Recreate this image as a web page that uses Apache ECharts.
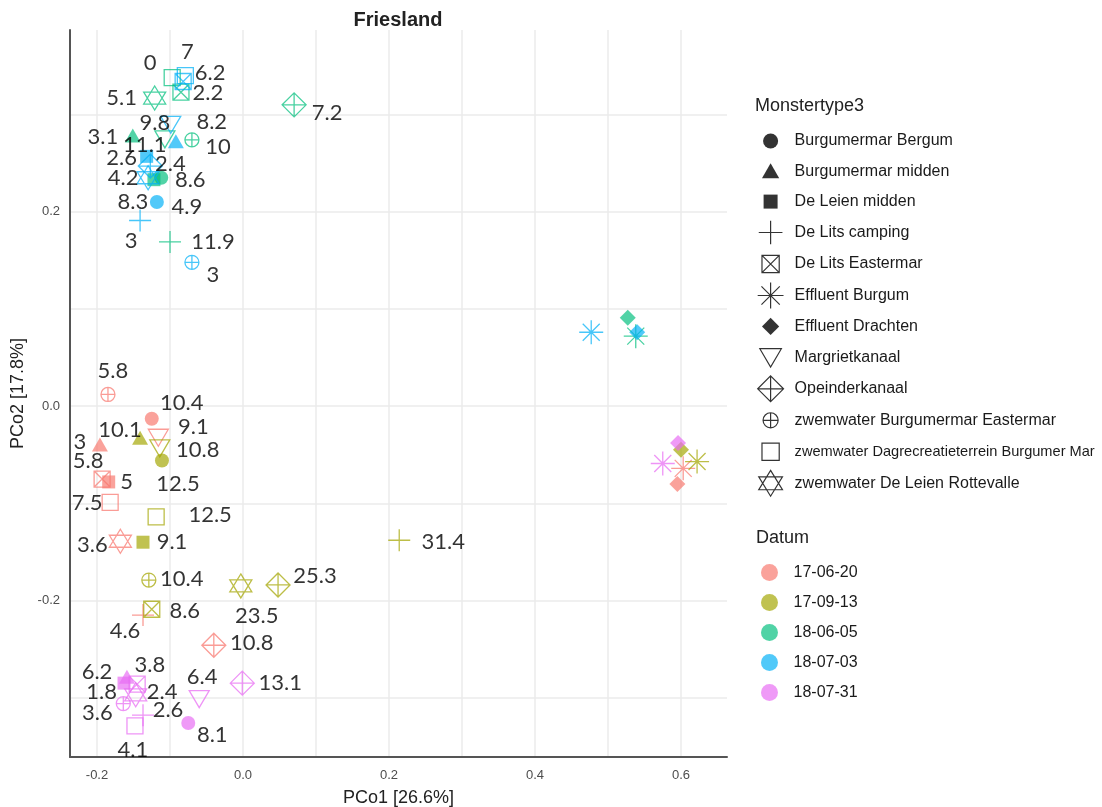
<!DOCTYPE html>
<html><head><meta charset="utf-8">
<script src="https://cdn.jsdelivr.net/npm/echarts@6/dist/echarts.min.js"></script>
<style>html,body{margin:0;padding:0;background:#fff}#c{width:1102px;height:807px}</style>
</head><body><div id="c"></div>
<script>
// ---------------- data ----------------
const dates = ['17-06-20', '17-09-13', '18-06-05', '18-07-03', '18-07-31'];
const types = ['Burgumermar Bergum', 'Burgumermar midden', 'De Leien midden', 'De Lits camping',
  'De Lits Eastermar', 'Effluent Burgum', 'Effluent Drachten', 'Margrietkanaal', 'Opeinderkanaal',
  'zwemwater Burgumermar Eastermar', 'zwemwater Dagrecreatieterrein Burgumer Mar', 'zwemwater De Leien Rottevalle'];
const xTicks = [-0.2, 0.0, 0.2, 0.4, 0.6];
const yTicks = [-0.2, 0.0, 0.2];

// [Monstertype3, PCo1, PCo2, label]
const pts_170620 = [
  ['zwemwater Burgumermar Eastermar', -0.185, 0.012, '5.8'],
  ['Burgumermar Bergum', -0.125, -0.013, '10.4'],
  ['Burgumermar midden', -0.196, -0.040, '3'],
  ['Margrietkanaal', -0.116, -0.032, '9.1'],
  ['De Lits Eastermar', -0.193, -0.075, '5.8'],
  ['De Leien midden', -0.184, -0.078, '5'],
  ['zwemwater Dagrecreatieterrein Burgumer Mar', -0.182, -0.099, '7.5'],
  ['zwemwater De Leien Rottevalle', -0.168, -0.139, '3.6'],
  ['De Lits camping', -0.137, -0.215, '4.6'],
  ['Opeinderkanaal', -0.040, -0.246, '10.8'],
  ['Effluent Drachten', 0.595, -0.080, ''],
  ['Effluent Burgum', 0.603, -0.064, '']
];
const pts_170913 = [
  ['Burgumermar midden', -0.141, -0.033, '10.1'],
  ['Margrietkanaal', -0.114, -0.043, '10.8'],
  ['Burgumermar Bergum', -0.111, -0.056, '12.5'],
  ['zwemwater Dagrecreatieterrein Burgumer Mar', -0.119, -0.114, '12.5'],
  ['De Leien midden', -0.137, -0.140, '9.1'],
  ['zwemwater Burgumermar Eastermar', -0.129, -0.179, '10.4'],
  ['De Lits Eastermar', -0.125, -0.209, '8.6'],
  ['zwemwater De Leien Rottevalle', -0.003, -0.185, '23.5'],
  ['Opeinderkanaal', 0.048, -0.184, '25.3'],
  ['De Lits camping', 0.214, -0.138, '31.4'],
  ['Effluent Drachten', 0.600, -0.045, ''],
  ['Effluent Burgum', 0.622, -0.057, '']
];
const pts_180605 = [
  ['zwemwater Dagrecreatieterrein Burgumer Mar', -0.097, 0.338, '0'],
  ['De Lits Eastermar', -0.085, 0.323, '2.2'],
  ['zwemwater De Leien Rottevalle', -0.121, 0.317, '5.1'],
  ['Opeinderkanaal', 0.070, 0.310, '7.2'],
  ['Burgumermar midden', -0.151, 0.278, '3.1'],
  ['Margrietkanaal', -0.107, 0.275, '9.8'],
  ['zwemwater Burgumermar Eastermar', -0.070, 0.274, '10'],
  ['Burgumermar Bergum', -0.112, 0.235, '8.6'],
  ['De Leien midden', -0.122, 0.233, '8.3'],
  ['De Lits camping', -0.100, 0.169, '11.9'],
  ['Effluent Drachten', 0.527, 0.091, ''],
  ['Effluent Burgum', 0.538, 0.072, '']
];
const pts_180703 = [
  ['zwemwater Dagrecreatieterrein Burgumer Mar', -0.079, 0.340, '7'],
  ['De Lits Eastermar', -0.082, 0.334, '6.2'],
  ['Margrietkanaal', -0.099, 0.290, '8.2'],
  ['Burgumermar midden', -0.092, 0.272, '11.1'],
  ['De Leien midden', -0.132, 0.257, '2.6'],
  ['Opeinderkanaal', -0.127, 0.247, '2.4'],
  ['zwemwater De Leien Rottevalle', -0.130, 0.235, '4.2'],
  ['Burgumermar Bergum', -0.118, 0.210, '4.9'],
  ['De Lits camping', -0.141, 0.191, '3'],
  ['zwemwater Burgumermar Eastermar', -0.070, 0.148, '3'],
  ['Effluent Drachten', 0.540, 0.076, ''],
  ['Effluent Burgum', 0.477, 0.076, '']
];
const pts_180731 = [
  ['Burgumermar midden', -0.159, -0.279, '3.8'],
  ['De Leien midden', -0.163, -0.285, '6.2'],
  ['De Lits Eastermar', -0.145, -0.286, '2.4'],
  ['zwemwater De Leien Rottevalle', -0.147, -0.297, '1.8'],
  ['zwemwater Burgumermar Eastermar', -0.164, -0.306, '3.6'],
  ['De Lits camping', -0.137, -0.318, '2.6'],
  ['zwemwater Dagrecreatieterrein Burgumer Mar', -0.148, -0.329, '4.1'],
  ['Margrietkanaal', -0.060, -0.301, '6.4'],
  ['Burgumermar Bergum', -0.075, -0.326, '8.1'],
  ['Opeinderkanaal', -0.001, -0.285, '13.1'],
  ['Effluent Drachten', 0.596, -0.038, ''],
  ['Effluent Burgum', 0.575, -0.059, '']
];

// ---------------- layout / style (label nudges in px, repel-like) ----------------
const nudge_170620 = [[5,-24],[30,-16],[-20,-3],[35,-10],[-14,-18],[18,0],[-23,1],[-28,4],[-18,16],[38,-2],[0,0],[0,0]];
const nudge_170913 = [[-20,-8],[38,2],[16,23],[54,-2],[29,0],[33,-1],[33,2],[16,30],[37,-9],[44,2],[0,0],[0,0]];
const nudge_180605 = [[-22,-15],[27,1],[-33,0],[33,8],[-30,1],[-10,-16],[26,7],[29,2],[-21,22],[43,0],[0,0],[0,0]];
const nudge_180703 = [[2,-24],[27,-9],[41,-2],[-31,3],[-25,2],[20,-2],[-25,0],[30,5],[-9,20],[21,13],[0,0],[0,0]];
const nudge_180731 = [[23,-12],[-27,-11],[25,8],[-34,-3],[-26,9],[25,-5],[-2,24],[3,-22],[24,12],[38,0],[0,0],[0,0]];

const allPts = [pts_170620, pts_170913, pts_180605, pts_180703, pts_180731];
const allNudge = [nudge_170620, nudge_170913, nudge_180605, nudge_180703, nudge_180731];
const dateColors = ['#F8766D', '#A3A500', '#00BF7D', '#00B0F6', '#E76BF3'];

const BOX = 'M0,0M26,26';
const shapes = {
  'Burgumermar Bergum': { p: 'M6,13A7,7,0,1,1,20,13A7,7,0,1,1,6,13Z', fill: true },
  'Burgumermar midden': { p: 'M13,5.5L21,19.5L5,19.5Z', fill: true },
  'De Leien midden': { p: 'M6.5,6.5L19.5,6.5L19.5,19.5L6.5,19.5Z', fill: true },
  'De Lits camping': { p: 'M2,13L24,13M13,2L13,24', fill: false },
  'De Lits Eastermar': { p: 'M5,5L21,5L21,21L5,21ZM5,5L21,21M21,5L5,21', fill: false },
  'Effluent Burgum': { p: 'M1,13L25,13M13,1L13,25M4.5,4.5L21.5,21.5M21.5,4.5L4.5,21.5', fill: false },
  'Effluent Drachten': { p: 'M13,5L21,13L13,21L5,13Z', fill: true },
  'Margrietkanaal': { p: 'M3,5L23,5L13,22Z', fill: false },
  'Opeinderkanaal': { p: 'M13,1L25,13L13,25L1,13ZM1,13L25,13M13,1L13,25', fill: false },
  'zwemwater Burgumermar Eastermar': { p: 'M6,13A7,7,0,1,1,20,13A7,7,0,1,1,6,13ZM6,13L20,13M13,6L13,20', fill: false },
  'zwemwater Dagrecreatieterrein Burgumer Mar': { p: 'M5,5L21,5L21,21L5,21Z', fill: false },
  'zwemwater De Leien Rottevalle': { p: 'M13,1L24,19L2,19ZM2,7L24,7L13,25Z', fill: false }
};

function rgba(hex, a) {
  const n = parseInt(hex.slice(1), 16);
  return 'rgba(' + (n >> 16) + ',' + ((n >> 8) & 255) + ',' + (n & 255) + ',' + a + ')';
}
function styleFor(type, color) {
  const s = shapes[type];
  return s.fill ? { color: rgba(color, 0.85), borderWidth: 0 }
                : { color: 'rgba(0,0,0,0)', borderColor: rgba(color, 0.9), borderWidth: 1.3 };
}

const series = [];
// legend-only series for Monstertype3
types.forEach(t => series.push({ type: 'scatter', name: t, data: [], symbol: 'path://' + BOX + shapes[t].p }));
// point series per date
dates.forEach((d, i) => {
  series.push({
    type: 'scatter', name: d, z: 2, symbolSize: 26, silent: true,
    itemStyle: { color: dateColors[i] },
    emphasis: { disabled: true },
    data: allPts[i].map(p => ({
      value: [p[1], p[2]], symbol: 'path://' + BOX + shapes[p[0]].p,
      itemStyle: styleFor(p[0], dateColors[i])
    }))
  });
});
// label series (drawn above all points)
dates.forEach((d, i) => {
  series.push({
    type: 'scatter', name: 'lab' + d, z: 5, symbolSize: 1, silent: true,
    itemStyle: { color: 'rgba(0,0,0,0)' },
    emphasis: { disabled: true },
    data: allPts[i].filter(p => p[3] !== '').map(p => ({
      value: [p[1], p[2]],
      label: {
        show: true, position: 'inside', formatter: p[3], offset: allNudge[i][allPts[i].indexOf(p)],
        color: '#000', fontSize: 22, fontFamily: 'Lato', textBorderWidth: 0
      }
    }))
  });
});

function isTick(v, list) { return list.some(t => Math.abs(t - v) < 1e-6); }
function fmt(v) { return Math.abs(v) < 1e-9 ? '0.0' : v.toFixed(1); }

const legendText = { fontSize: 16, color: '#1a1a1a', fontFamily: 'Liberation Sans' };

const option = {
  animation: false,
  backgroundColor: '#fff',
  title: [
    { text: 'Friesland', left: 398, top: 10, textAlign: 'center', padding: 0,
      textStyle: { fontSize: 20, fontWeight: 'bold', color: '#222', fontFamily: 'Liberation Sans' } },
    { text: 'Monstertype3', left: 755, top: 97, padding: 0,
      textStyle: { fontSize: 18, fontWeight: 'normal', color: '#222', fontFamily: 'Liberation Sans' } },
    { text: 'Datum', left: 756, top: 529, padding: 0,
      textStyle: { fontSize: 18, fontWeight: 'normal', color: '#222', fontFamily: 'Liberation Sans' } }
  ],
  grid: { left: 70, top: 30, right: 375, bottom: 50, containLabel: false, outerBoundsMode: 'none' },
  xAxis: {
    type: 'value', min: -0.237, max: 0.663, splitNumber: 9, minInterval: 0.1, maxInterval: 0.1,
    axisLine: { show: true, onZero: false, lineStyle: { color: '#555', width: 2 } },
    axisTick: { show: false },
    axisLabel: { color: '#4d4d4d', fontSize: 13, margin: 12, fontFamily: 'Liberation Sans',
      formatter: v => isTick(v, xTicks) ? fmt(v) : '' },
    splitLine: { show: true, showMinLine: false, showMaxLine: false, lineStyle: { color: '#ebebeb', width: 1.5 } },
    name: 'PCo1 [26.6%]', nameLocation: 'middle', nameGap: 32,
    nameTextStyle: { fontSize: 18, color: '#222', fontFamily: 'Liberation Sans' }
  },
  yAxis: {
    type: 'value', min: -0.361, max: 0.387, splitNumber: 7, minInterval: 0.1, maxInterval: 0.1,
    axisLine: { show: true, onZero: false, lineStyle: { color: '#555', width: 2 } },
    axisTick: { show: false },
    axisLabel: { color: '#4d4d4d', fontSize: 13, margin: 10, fontFamily: 'Liberation Sans',
      formatter: v => isTick(v, yTicks) ? fmt(v) : '' },
    splitLine: { show: true, showMinLine: false, showMaxLine: false, lineStyle: { color: '#ebebeb', width: 1.5 } },
    name: 'PCo2 [17.8%]', nameLocation: 'middle', nameGap: 40,
    nameTextStyle: { fontSize: 18, color: '#222', fontFamily: 'Liberation Sans' }
  },
  legend: [
    {
      orient: 'vertical', left: 756, top: 127, padding: 0, itemWidth: 38, itemHeight: 28, itemGap: 2.3,
      selectedMode: false,
      textStyle: legendText,
      data: types.map(t => ({
        name: t, icon: 'path://' + BOX + shapes[t].p,
        textStyle: t.length > 40 ? Object.assign({}, legendText, { fontSize: 14.6 }) : legendText,
        itemStyle: shapes[t].fill ? { color: '#000', borderWidth: 0 }
                                  : { color: 'rgba(0,0,0,0)', borderColor: '#000', borderWidth: 1.2 }
      }))
    },
    {
      orient: 'vertical', left: 761, top: 564, padding: 0, itemWidth: 38, itemHeight: 17, itemGap: 13,
      selectedMode: false,
      textStyle: legendText,
      data: dates.map((d, i) => ({ name: d, icon: 'circle', itemStyle: { color: rgba(dateColors[i], 0.85), borderWidth: 0 } }))
    }
  ],
  series: series
};

const chart = echarts.init(document.getElementById('c'), null, { renderer: 'canvas' });
chart.setOption(option);
</script>
</body></html>
